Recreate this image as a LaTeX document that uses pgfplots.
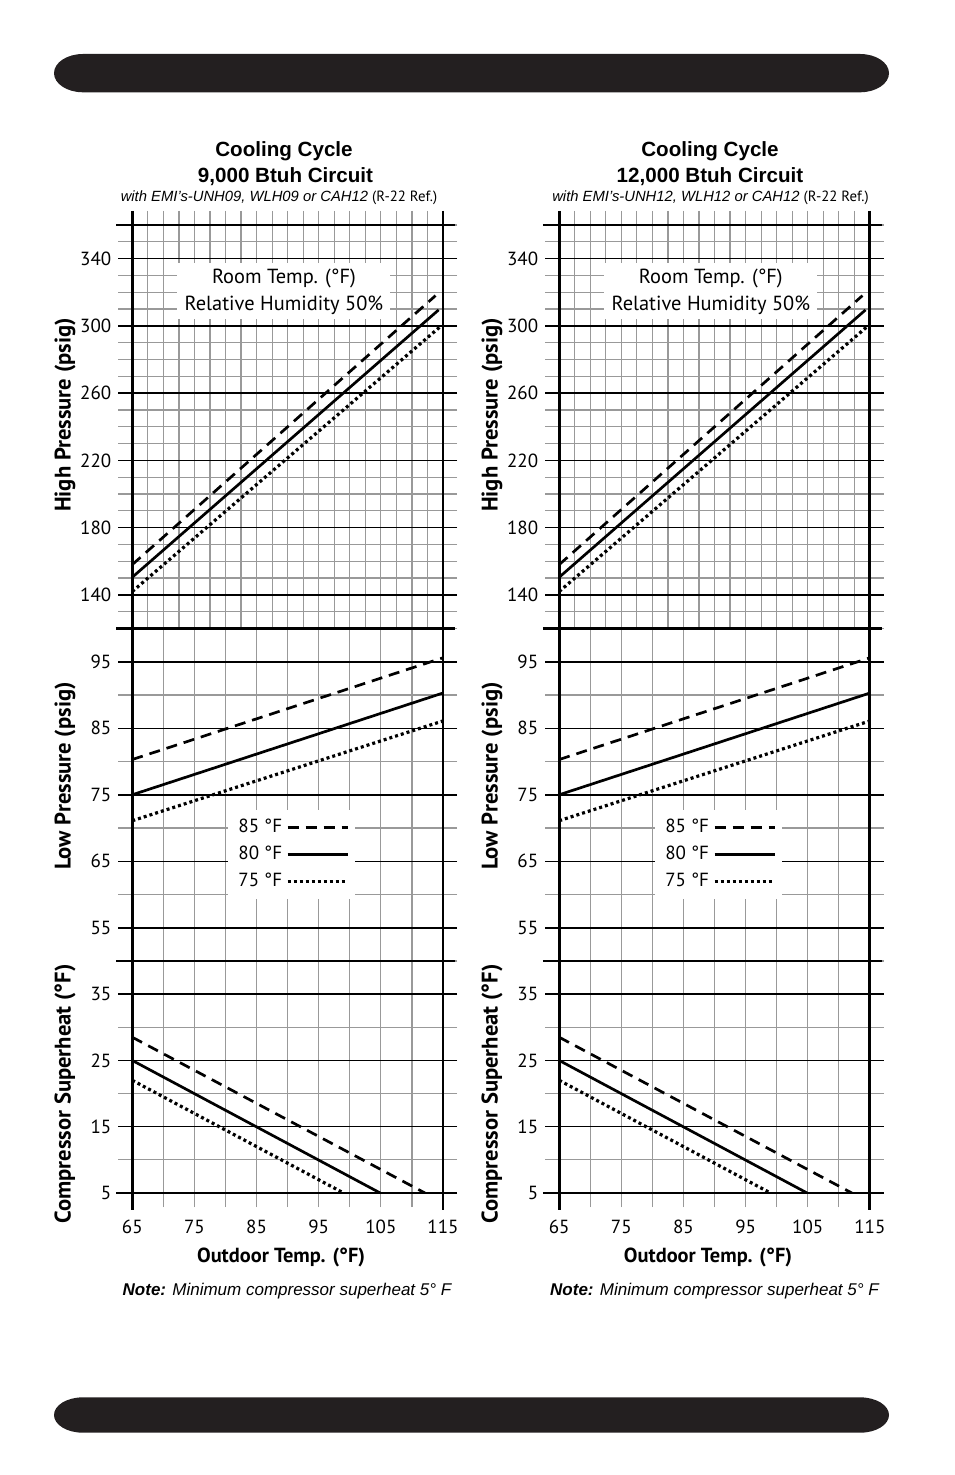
\documentclass[border=0pt]{standalone}
\usepackage{fontspec}
\setmainfont{PT Sans}
\newfontfamily\arialf{Liberation Sans}
\usepackage{pgfplots}
\pgfplotsset{compat=1.18}
\definecolor{gridgray}{gray}{0.6}
\definecolor{barblack}{RGB}{35,31,32}
\pgfplotsset{
  panel/.style={
    scale only axis, width=155.35pt, xmin=65, xmax=115,
    axis line style={draw=none},
    /pgf/number format/assume math mode=true,
    tick align=outside, ytick pos=both,
    major tick length=7pt, minor tick length=7pt,
    xmajorgrids=false, xminorgrids=true, ymajorgrids=true, yminorgrids=true,
    major grid style={black, line width=0.75pt},
    minor grid style={gridgray, line width=0.6pt},
    major tick style={black, line width=0.75pt},
    minor tick style={gridgray, line width=0.6pt},
    ticklabel style={font=\fontsize{9.5}{10}\selectfont},
    xlabel style={font=\bfseries\fontsize{10.2}{12}\selectfont},
    ylabel style={font=\bfseries\fontsize{11.3}{13}\selectfont},
    xtick style={draw=none},
  },
  toppanel/.style={panel, anchor=south west, height=201.75pt,
    ymin=120, ymax=360, ytick={140,180,...,340}, minor ytick={120,130,...,360},
    xtick={65,75,...,115}, xticklabels={}, minor xtick={65,67.5,...,115}, xtick pos=right,
    xtick style={draw=gridgray, line width=0.6pt},
    ylabel={High Pressure (psig)},
    ylabel style={at={(axis description cs:-0.2163,0.529)}, anchor=center}},
  midpanel/.style={panel, anchor=south west, height=166.25pt,
    ymin=50, ymax=100, ytick={55,65,...,95}, minor ytick={50,55,...,100},
    xtick={65,75,...,115}, xticklabels={}, minor xtick={65,70,...,115},
    ylabel={Low Pressure (psig)},
    ylabel style={at={(axis description cs:-0.2163,0.556)}, anchor=center},
    legend plot pos=right,
    legend image code/.code={\draw[##1] (0pt,0pt) -- (30pt,0pt);},
    legend style={at={(axis cs:80.4,72.7)}, anchor=north west, draw=none, fill=white,
      inner xsep=3pt, inner ysep=2.5pt, row sep=1.2pt,
      font=\fontsize{9.5}{11}\selectfont, cells={anchor=west}}},
  botpanel/.style={panel, anchor=south west, height=116pt,
    ymin=5, ymax=40, ytick={5,15,25,35}, minor ytick={5,10,...,40},
    xtick={65,75,...,115}, minor xtick={65,70,...,115}, xtick pos=left,
    xtick style={draw=gridgray, line width=0.6pt},
    xticklabel style={yshift=-3pt},
    xlabel={Outdoor Temp. (°F)},
    xlabel style={at={(axis description cs:0.479,-0.276)}, anchor=center},
    ylabel={Compressor Superheat (°F)},
    ylabel style={at={(axis description cs:-0.2163,0.427)}, anchor=center}},
  d85/.style={black, line width=1.35pt, dash pattern=on 5.5pt off 3.5pt},
  d80/.style={black, line width=1.35pt},
  d75/.style={black, line width=1.6pt, dash pattern=on 1.5pt off 1.5pt},
}
\newcommand{\roomnote}{\node[fill=white, inner sep=0pt, minimum width=106.5pt, minimum height=28pt, align=center,
   font=\fontsize{10.2}{13.5}\selectfont] at (axis cs:89.4,320.5) {Room Temp. (°F)\\Relative Humidity 50\%};}
\begin{document}
\begin{tikzpicture}
\path (0pt,0pt) rectangle (477pt,-737.5pt);

% ---------------- left column ----------------
\begin{axis}[toppanel, at={(66.15pt,-314.25pt)}]
\roomnote
\addplot[d85] coordinates {(65,158) (113.8,318)};
\addplot[d80] coordinates {(65,150.5) (114.3,309.5)};
\addplot[d75] coordinates {(65,142) (114.7,300)};
\end{axis}
\begin{axis}[midpanel, at={(66.15pt,-480.5pt)}]
\addplot[d85] coordinates {(65,80.3) (115,95.6)};
\addlegendentry{85 °F}
\addplot[d80] coordinates {(65,75) (115,90.3)};
\addlegendentry{80 °F}
\addplot[d75] coordinates {(65,71.1) (115,86.1)};
\addlegendentry{75 °F}
\end{axis}
\begin{axis}[botpanel, at={(66.15pt,-596.5pt)}]
\addplot[d85] coordinates {(65,28.5) (112.1,5)};
\addplot[d80] coordinates {(65,25) (104.9,5)};
\addplot[d75] coordinates {(65,22) (99,5)};
\end{axis}

% ---------------- right column ----------------
\begin{axis}[toppanel, at={(279.6pt,-314.25pt)}]
\roomnote
\addplot[d85] coordinates {(65,158) (113.8,318)};
\addplot[d80] coordinates {(65,150.5) (114.3,309.5)};
\addplot[d75] coordinates {(65,142) (114.7,300)};
\end{axis}
\begin{axis}[midpanel, at={(279.6pt,-480.5pt)}]
\addplot[d85] coordinates {(65,80.3) (115,95.6)};
\addlegendentry{85 °F}
\addplot[d80] coordinates {(65,75) (115,90.3)};
\addlegendentry{80 °F}
\addplot[d75] coordinates {(65,71.1) (115,86.1)};
\addlegendentry{75 °F}
\end{axis}
\begin{axis}[botpanel, at={(279.6pt,-596.5pt)}]
\addplot[d85] coordinates {(65,28.5) (112.1,5)};
\addplot[d80] coordinates {(65,25) (104.9,5)};
\addplot[d75] coordinates {(65,22) (99,5)};
\end{axis}

\begin{scope}[x=0.5pt, y=-0.5pt]
% thick frames
\foreach \dx in {0,426.9}{
  \draw[line width=1.3pt] (132.3+\dx,211) -- (132.3+\dx,1210);
  \draw[line width=1.3pt] (442.8+\dx,211) -- (442.8+\dx,1210);
  \foreach \yy in {225,628.5,961,1193}{
    \draw[line width=1.3pt] (116+\dx,\yy) -- (455+\dx,\yy);
  }
}
% titles
\node[anchor=base, font=\arialf\bfseries\fontsize{10.3}{12}\selectfont] at (284,156.5) {Cooling Cycle};
\node[anchor=base, font=\arialf\bfseries\fontsize{10.3}{12}\selectfont] at (285.5,182.5) {9,000 Btuh Circuit};
\node[anchor=base, font=\fontsize{7.4}{9}\selectfont] at (279,201.5) {{\arialf\itshape with EMI’s-UNH09, WLH09 or CAH12 }(R-22 Ref.)};
\node[anchor=base, font=\arialf\bfseries\fontsize{10.3}{12}\selectfont] at (710,156.5) {Cooling Cycle};
\node[anchor=base, font=\arialf\bfseries\fontsize{10.3}{12}\selectfont] at (710,182.5) {12,000 Btuh Circuit};
\node[anchor=base, font=\fontsize{7.4}{9}\selectfont] at (710.5,201.5) {{\arialf\itshape with EMI’s-UNH12, WLH12 or CAH12 }(R-22 Ref.)};
% notes
\node[anchor=base, font=\arialf\itshape\fontsize{8.5}{10}\selectfont] at (287,1295) {{\bfseries Note:} Minimum compressor superheat 5° F};
\node[anchor=base, font=\arialf\itshape\fontsize{8.5}{10}\selectfont] at (714.5,1295) {{\bfseries Note:} Minimum compressor superheat 5° F};
% black bars
\foreach \ya/\yb in {54/92.3, 1397.3/1432.7}{
  \fill[barblack] (83,\ya) -- (860,\ya) arc[start angle=90, end angle=-90, x radius=14.5pt, y radius={(\yb-\ya)/4*1pt}]
     -- (83,\yb) arc[start angle=270, end angle=90, x radius=14.5pt, y radius={(\yb-\ya)/4*1pt}] -- cycle;
}
\end{scope}
\end{tikzpicture}
\end{document}
